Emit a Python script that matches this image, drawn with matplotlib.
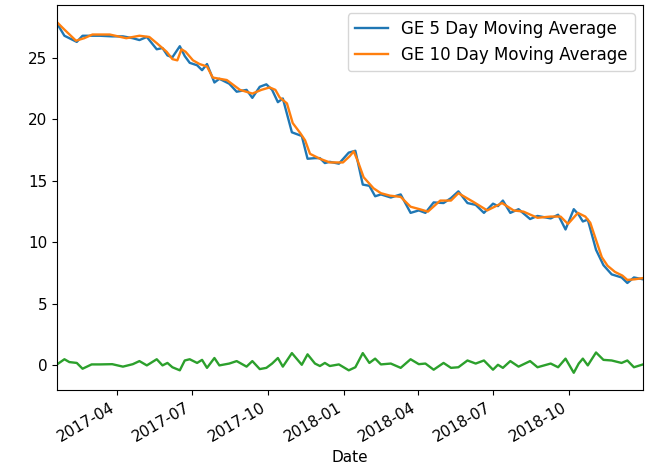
import matplotlib
matplotlib.use("Agg")
import matplotlib.pyplot as plt
import matplotlib.dates as mdates
import pandas as pd

# GE 10 day moving average
ma10_dates = ["2017-01-18", "2017-01-27", "2017-02-10", "2017-02-20", "2017-03-02", "2017-03-23",
              "2017-04-12", "2017-04-28", "2017-05-10", "2017-05-19", "2017-05-31", "2017-06-07",
              "2017-06-13", "2017-06-18", "2017-06-23", "2017-07-02", "2017-07-10", "2017-07-19",
              "2017-07-26", "2017-08-12", "2017-08-28", "2017-09-12", "2017-09-23", "2017-10-03",
              "2017-10-10", "2017-10-15", "2017-10-24", "2017-10-31", "2017-11-09", "2017-11-15",
              "2017-11-21", "2017-12-03", "2017-12-15", "2017-12-31", "2018-01-08", "2018-01-13",
              "2018-01-18", "2018-01-25", "2018-02-06", "2018-02-15", "2018-02-26", "2018-03-11",
              "2018-03-23", "2018-04-03", "2018-04-13", "2018-04-28", "2018-05-11", "2018-05-20",
              "2018-06-07", "2018-06-24", "2018-07-12", "2018-07-26", "2018-08-07", "2018-08-24",
              "2018-09-09", "2018-09-21", "2018-09-30", "2018-10-12", "2018-10-21", "2018-10-27",
              "2018-11-02", "2018-11-10", "2018-11-17", "2018-11-26", "2018-12-05", "2018-12-11",
              "2018-12-20", "2018-12-30"]
ma10_values = [27.9, 27.3, 26.4, 26.6, 26.9, 26.9,
               26.6, 26.8, 26.7, 26.2, 25.5, 24.9,
               24.8, 25.7, 25.5, 24.8, 24.5, 24.3,
               23.4, 23.2, 22.4, 22.1, 22.4, 22.6,
               22.4, 21.8, 21.3, 19.7, 18.9, 18.3,
               17.2, 16.8, 16.5, 16.5, 17.0, 17.4,
               16.6, 15.3, 14.4, 14.0, 13.8, 13.7,
               12.9, 12.7, 12.5, 13.4, 13.4, 14.0,
               13.3, 12.6, 13.2, 12.6, 12.5, 12.0,
               12.1, 12.1, 11.5, 12.4, 12.1, 11.6,
               10.4, 8.8, 8.1, 7.6, 7.3, 6.95,
               7.0, 7.1]

# GE 5 day moving average and the difference line share these dates
ma5_dates = ["2017-01-18", "2017-01-27", "2017-02-02", "2017-02-11", "2017-02-18", "2017-03-01",
             "2017-03-11", "2017-03-26", "2017-04-08", "2017-04-20", "2017-04-28", "2017-05-07",
             "2017-05-19", "2017-05-26", "2017-06-01", "2017-06-07", "2017-06-16", "2017-06-22",
             "2017-06-28", "2017-07-07", "2017-07-13", "2017-07-19", "2017-07-28", "2017-08-03",
             "2017-08-15", "2017-08-24", "2017-09-05", "2017-09-12", "2017-09-21", "2017-09-29",
             "2017-10-06", "2017-10-13", "2017-10-19", "2017-10-30", "2017-11-11", "2017-11-18",
             "2017-11-27", "2017-12-03", "2017-12-09", "2017-12-15", "2017-12-26", "2018-01-07",
             "2018-01-15", "2018-01-24", "2018-02-01", "2018-02-08", "2018-02-15", "2018-02-27",
             "2018-03-11", "2018-03-23", "2018-04-02", "2018-04-10", "2018-04-20", "2018-05-02",
             "2018-05-11", "2018-05-20", "2018-05-31", "2018-06-10", "2018-06-20", "2018-07-01",
             "2018-07-07", "2018-07-13", "2018-07-22", "2018-08-01", "2018-08-15", "2018-08-24",
             "2018-09-09", "2018-09-18", "2018-09-27", "2018-10-07", "2018-10-13", "2018-10-18",
             "2018-10-24", "2018-11-03", "2018-11-12", "2018-11-22", "2018-12-04", "2018-12-11",
             "2018-12-19", "2018-12-30"]
ma5_values = [27.8, 26.8, 26.6, 26.3, 26.8, 26.8,
              26.8, 26.75, 26.75, 26.6, 26.45, 26.7,
              25.7, 25.8, 25.2, 25.05, 25.95, 25.15,
              24.6, 24.4, 24.0, 24.5, 23.0, 23.3,
              22.9, 22.25, 22.4, 21.75, 22.65, 22.85,
              22.4, 21.4, 21.7, 18.95, 18.65, 16.8,
              16.85, 16.85, 16.45, 16.55, 16.4, 17.3,
              17.45, 14.7, 14.6, 13.75, 13.9, 13.65,
              13.9, 12.4, 12.6, 12.4, 13.25, 13.2,
              13.6, 14.15, 13.2, 13.05, 12.4, 13.15,
              12.95, 13.4, 12.4, 12.7, 11.9, 12.15,
              11.95, 12.25, 11.05, 12.7, 12.25, 11.7,
              11.85, 9.4, 8.15, 7.4, 7.15, 6.7,
              7.15, 7.0]
diff_values = [0.08, 0.5, 0.27, 0.2, -0.27, 0.08,
               0.08, 0.1, -0.1, 0.1, 0.35, 0.0,
               0.5, 0.0, 0.2, -0.15, -0.4, 0.4,
               0.5, 0.2, 0.45, -0.2, 0.6, 0.0,
               0.15, 0.35, -0.1, 0.35, -0.3, -0.2,
               0.15, 0.6, -0.1, 1.0, 0.05, 0.9,
               0.15, -0.05, 0.2, -0.05, 0.08, -0.4,
               -0.15, 1.0, 0.2, 0.55, 0.08, 0.15,
               -0.2, 0.5, 0.1, 0.15, -0.35, 0.2,
               -0.2, -0.15, 0.4, 0.15, 0.4, -0.35,
               0.05, -0.2, 0.35, -0.1, 0.35, -0.15,
               0.15, -0.15, 0.55, -0.6, 0.15, 0.55,
               0.0, 1.05, 0.45, 0.4, 0.2, 0.4,
               -0.15, 0.08]

d10 = pd.to_datetime(ma10_dates)
d5 = pd.to_datetime(ma5_dates)

fig, ax = plt.subplots(figsize=(6.62, 4.75), dpi=100)
ax.plot(d5, ma5_values, color="C0", lw=1.7, label="GE 5 Day Moving Average")
ax.plot(d10, ma10_values, color="C1", lw=1.7, label="GE 10 Day Moving Average")
ax.plot(d5, diff_values, color="C2", lw=1.7)

ax.set_xlim(pd.Timestamp("2017-01-18"), pd.Timestamp("2018-12-30"))
ax.set_ylim(-2.0, 29.3)
ax.set_yticks([0, 5, 10, 15, 20, 25])
ax.xaxis.set_major_locator(mdates.MonthLocator(bymonth=[1, 4, 7, 10]))
ax.xaxis.set_major_formatter(mdates.DateFormatter("%Y-%m"))
ax.tick_params(labelsize=11)
ax.set_xlabel("Date", fontsize=11)
ax.legend(loc="upper right", fontsize=12)
fig.autofmt_xdate()
fig.subplots_adjust(left=57/662, right=643/662, top=1-5/475, bottom=1-390/475)
fig.savefig("out.png", dpi=100)
